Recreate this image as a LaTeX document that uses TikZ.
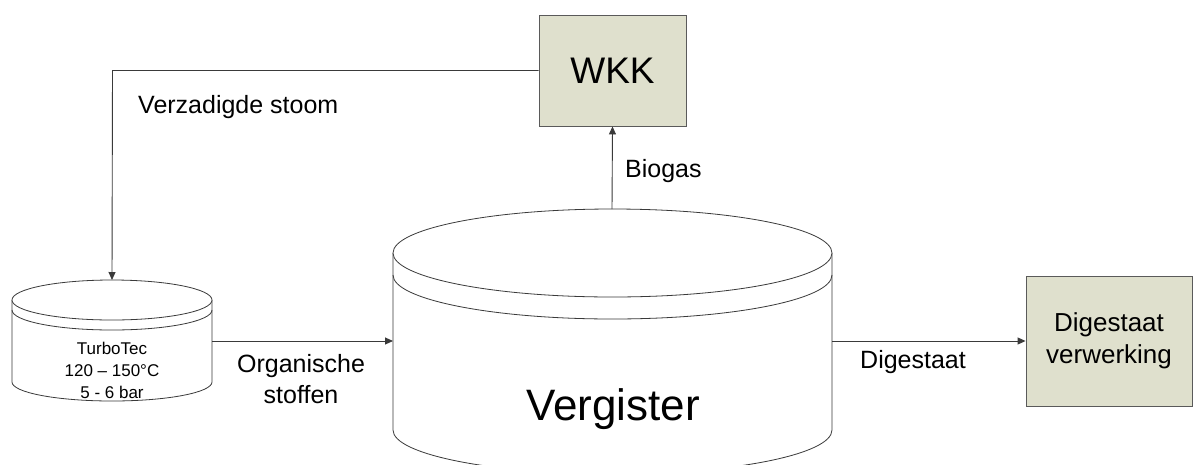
\documentclass[tikz,border=0pt]{standalone}
\usepackage{fontspec}
\setmainfont{Liberation Sans}
\usetikzlibrary{arrows.meta}
\definecolor{boxfill}{HTML}{DFE0CD}
\definecolor{boxline}{HTML}{5A5A5A}
\definecolor{conn}{HTML}{3A3A3A}
\tikzset{
  procbox/.style={draw=boxline, fill=boxfill, line width=0.9pt, inner sep=0pt, align=center},
  cylline/.style={draw=conn, line width=0.8pt},
  flow/.style={draw=conn, line width=0.9pt, -{Triangle[length=8pt,width=7pt]}},
  lbl/.style={inner sep=0pt, font=\fontsize{25}{31}\selectfont, align=center}
}
\begin{document}
\begin{tikzpicture}[x=1pt,y=-1pt]
\useasboundingbox (0,0) rectangle (1194,464);
\fill[white] (0,0) rectangle (1194,464);

% Vergister cylinder
\filldraw[cylline, fill=white] (393,253) -- (393,430)
  arc[start angle=180, end angle=0, x radius=219.5, y radius=44] -- (832,253);
\filldraw[cylline, fill=white] (612.5,253) ellipse[x radius=219.5, y radius=44];
\draw[cylline] (393,275) arc[start angle=180, end angle=0, x radius=219.5, y radius=44];
\node[anchor=base, inner sep=0pt, font=\fontsize{44}{50}\selectfont] (vergister) at (613,420) {Vergister};
\coordinate (vergL) at (393,341);
\coordinate (vergR) at (832,341);
\coordinate (vergT) at (612,209);

% TurboTec cylinder
\filldraw[cylline, fill=white] (12,300) -- (12,382)
  arc[start angle=180, end angle=0, x radius=100, y radius=19] -- (212,300);
\filldraw[cylline, fill=white] (112,300) ellipse[x radius=100, y radius=20];
\draw[cylline] (12,310) arc[start angle=180, end angle=0, x radius=100, y radius=20];
\node[anchor=base, inner sep=0pt, align=center, font=\fontsize{17}{21.8}\selectfont] (turbotec) at (112,398) {TurboTec\\120 – 150°C\\5 - 6 bar};
\coordinate (turboT) at (112,280);
\coordinate (turboR) at (212,341);

% WKK
\node[procbox, minimum width=147pt, minimum height=111pt, font=\fontsize{37}{40}\selectfont] (wkk) at (612.5,70.5) {WKK};

% Digestaat verwerking
\node[procbox, minimum width=166pt, minimum height=130pt, font=\fontsize{26}{32}\selectfont] (dv) at (1109,341) {Digestaat\\verwerking};

% connectors
\coordinate (corner) at (112.5,70.5);
\draw[flow] (wkk.west) -- (corner) -- (turboT);
\draw[flow] (turboR) -- (vergL);
\draw[flow] (vergT) -- (wkk.south);
\draw[flow] (vergR) -- (dv.west);

% labels
\node[lbl, anchor=base west] (lstoom) at (138,113) {Verzadigde stoom};
\node[lbl, anchor=base west] (lbiogas) at (625,177) {Biogas};
\node[lbl, anchor=base] (lorg) at (301,403) {Organische\\stoffen};
\node[lbl, anchor=base west] (ldig) at (860,368) {Digestaat};
\end{tikzpicture}
\end{document}
